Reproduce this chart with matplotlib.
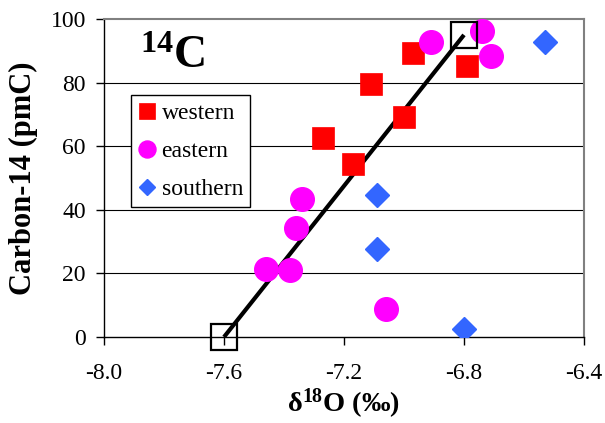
import matplotlib
matplotlib.use("Agg")
import matplotlib.pyplot as plt

plt.rcParams["font.family"] = ["Liberation Serif", "DejaVu Serif"]
plt.rcParams["mathtext.fontset"] = "custom"
plt.rcParams["mathtext.rm"] = "Liberation Serif:bold"
plt.rcParams["mathtext.bf"] = "Liberation Serif:bold"
plt.rcParams["mathtext.it"] = "Liberation Serif:bold"

# data
western_x = [-6.97, -6.79, -7.11, -7.00, -7.27, -7.17]
western_y = [89.2, 85.3, 79.6, 69.1, 62.5, 54.4]
eastern_x = [-6.91, -6.74, -6.71, -7.34, -7.36, -7.46, -7.38, -7.06]
eastern_y = [92.9, 96.2, 88.5, 43.4, 34.4, 21.3, 21.1, 8.8]
southern_x = [-6.53, -7.09, -7.09, -6.80]
southern_y = [92.7, 44.7, 27.6, 2.5]
end_x = [-7.6, -6.8]
end_y = [0.0, 95.0]
xticks = [-8.0, -7.6, -7.2, -6.8, -6.4]
yticks = [0, 20, 40, 60, 80, 100]

fig = plt.figure(figsize=(6.05, 4.23), dpi=100)
ax = fig.add_axes([104 / 605, 1 - 337 / 423, 480 / 605, 318 / 423])

for y in yticks[1:-1]:
    ax.axhline(y, color="black", lw=0.8, zorder=1)

ax.plot(end_x, end_y, color="black", lw=3, zorder=2, solid_capstyle="butt")
ax.plot(western_x, western_y, "s", color="#ff0000", ms=16.5, mec="#ff0000",
        mew=0.5, ls="none", label="western", zorder=3)
ax.plot(eastern_x, eastern_y, "o", color="#ff00ff", ms=17, mec="#ff00ff",
        ls="none", label="eastern", zorder=3)
ax.plot(southern_x, southern_y, "D", color="#3366ff", ms=12, mec="#3366ff",
        ls="none", label="southern", zorder=3)
ax.plot(end_x, end_y, "s", mfc="none", mec="black", mew=1.6, ms=18.5,
        ls="none", zorder=4, clip_on=False)

ax.set_xlim(-8.0, -6.4)
ax.set_ylim(0, 100)
ax.set_xticks(xticks, [f"{v:.1f}" for v in xticks])
ax.set_yticks(yticks, [str(v) for v in yticks])
ax.tick_params(labelsize=17, direction="out", length=6, width=1, pad=7,
               colors="black")
ax.tick_params(axis="x", pad=13)

for side in ("top", "right"):
    ax.spines[side].set_color("#808080")
    ax.spines[side].set_linewidth(1.5)
for side in ("left", "bottom"):
    ax.spines[side].set_color("black")
    ax.spines[side].set_linewidth(1)

ax.set_xlabel("δ$^{18}$O (‰)", fontsize=20.5, fontweight="bold", labelpad=2)
ax.set_ylabel("Carbon-14 (pmC)", fontsize=22, fontweight="bold", labelpad=9)

ax.text(0.075, 0.846, "$^{14}$C", transform=ax.transAxes, fontsize=33,
        fontweight="bold", va="baseline", ha="left")

leg = ax.legend(loc="upper left", bbox_to_anchor=(0.056, 0.76), fontsize=17,
                markerscale=0.72, frameon=True, fancybox=False, framealpha=1,
                edgecolor="black", handlelength=0.8, handletextpad=0.2,
                borderpad=0.3, labelspacing=0.7, borderaxespad=0)
leg.get_frame().set_linewidth(1)

fig.savefig("out.png", dpi=100)
